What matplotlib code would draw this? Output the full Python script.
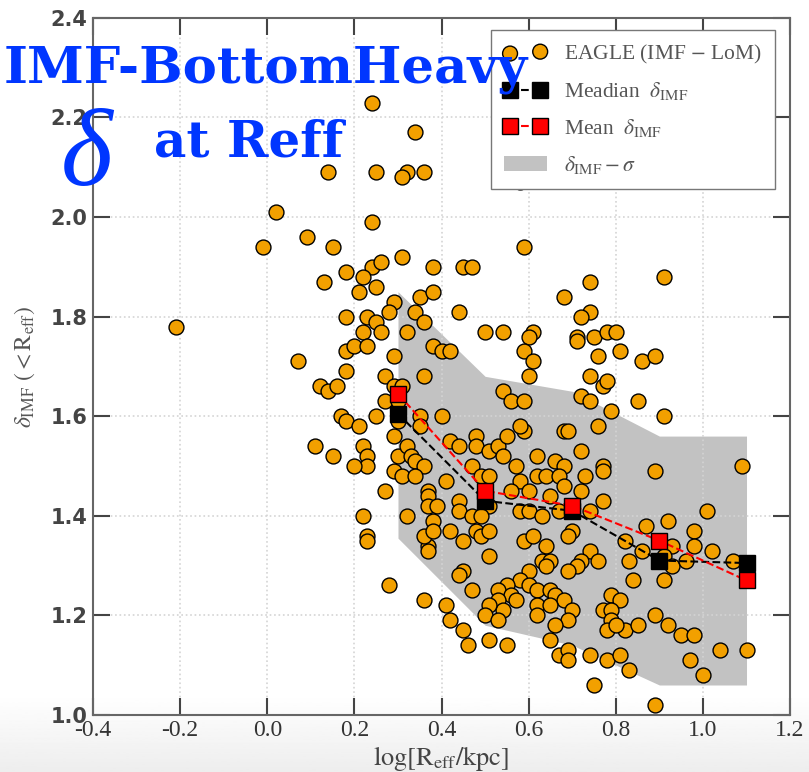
import numpy as np
import matplotlib.pyplot as plt

# EAGLE galaxies (IMF - LoM): log Reff [kpc], delta_IMF(<Reff)
x_eagle = [0.24, 0.34, 0.14, 0.25, 0.32, 0.31, 0.02, 0.24, -0.01, 0.09,
           0.15, 0.31, 0.18, 0.24, 0.26, 0.13, 0.22, 0.25, 0.21, 0.29,
           0.28, 0.18, 0.23, 0.25, -0.21, 0.22, 0.26, 0.32,
           0.36, 0.58, 0.38, 0.45, 0.47, 0.59, 0.91, 0.74, 0.68, 0.74,
           0.72, 0.35, 0.38, 0.44, 0.34, 0.36, 0.50, 0.54, 0.61, 0.60,
           0.71, 0.71, 0.75, 0.78, 0.80,
           0.18, 0.20, 0.23, 0.07, 0.29, 0.18, 0.12, 0.14, 0.16, 0.27,
           0.29, 0.31, 0.27, 0.30, 0.17, 0.18, 0.21, 0.25, 0.30, 0.29,
           0.11, 0.15, 0.22, 0.23, 0.23, 0.20, 0.30, 0.32, 0.29, 0.31,
           0.27, 0.22, 0.23, 0.32,
           0.23, 0.37, 0.37, 0.28, 0.36, 0.41, 0.42,
           0.38, 0.40, 0.42, 0.59, 0.61, 0.76, 0.81, 0.86, 0.89, 0.36,
           0.60, 0.74, 0.77, 0.78, 0.54, 0.56, 0.59, 0.72, 0.74, 0.85,
           0.79, 0.91, 0.35, 0.40, 0.35, 0.59, 0.58, 0.68, 0.69, 0.76,
           0.42, 0.44, 0.48, 0.48, 0.51, 0.53, 0.55, 0.33, 0.34, 0.36,
           0.34, 0.72, 0.47, 0.54, 0.57, 0.62, 0.66, 0.68, 0.77, 0.77,
           0.89, 1.09, 0.62, 0.64, 0.67, 0.68, 0.73, 0.49, 0.51, 0.41,
           0.58, 0.60, 0.72, 0.37, 0.37, 0.37, 0.39, 0.44, 0.56, 0.65,
           0.77, 0.44, 0.51, 0.58, 0.60, 0.63, 0.67, 0.74, 1.01, 0.38,
           0.47, 0.49, 0.87, 0.92, 0.36, 0.38, 0.42, 0.45, 0.48, 0.49,
           0.51, 0.59, 0.61, 0.70, 0.69, 0.82, 0.98, 0.98, 0.93, 0.64,
           0.51, 0.63, 0.65, 0.64, 0.74, 0.76, 0.72, 0.71, 0.69, 0.86,
           0.91, 1.02, 0.93, 0.83, 0.96, 1.07, 0.84, 0.91, 0.45, 0.44,
           0.60, 0.58, 0.60, 0.55, 0.53, 0.56, 0.47, 0.62, 0.65, 0.66,
           0.68, 0.53, 0.54, 0.51, 0.50, 0.53, 0.57, 0.62, 0.65, 0.62,
           0.70, 0.69, 0.45, 0.46, 0.51, 0.55, 0.66, 0.65, 0.79, 0.81,
           0.77, 0.79, 0.79, 0.78, 0.82, 0.80, 0.85, 0.89, 0.92, 0.95,
           0.98, 1.04, 1.10, 0.67, 0.69, 0.69, 0.74, 0.78, 0.81, 0.83,
           0.97, 1.00, 0.75, 0.89]
y_eagle = [2.23, 2.17, 2.09, 2.09, 2.09, 2.08, 2.01, 1.99, 1.94, 1.96,
           1.94, 1.92, 1.89, 1.90, 1.91, 1.87, 1.88, 1.86, 1.85, 1.83,
           1.81, 1.80, 1.80, 1.79, 1.78, 1.77, 1.77, 1.77,
           2.09, 2.07, 1.90, 1.90, 1.90, 1.94, 1.88, 1.87, 1.84, 1.81,
           1.80, 1.84, 1.85, 1.81, 1.81, 1.79, 1.77, 1.77, 1.77, 1.76,
           1.76, 1.75, 1.76, 1.77, 1.77,
           1.73, 1.74, 1.74, 1.71, 1.72, 1.69, 1.66, 1.65, 1.66, 1.68,
           1.66, 1.66, 1.63, 1.63, 1.60, 1.59, 1.58, 1.60, 1.59, 1.56,
           1.54, 1.52, 1.54, 1.52, 1.50, 1.50, 1.52, 1.54, 1.49, 1.48,
           1.45, 1.40, 1.36, 1.40,
           1.35, 1.34, 1.33, 1.26, 1.23, 1.22, 1.19,
           1.74, 1.73, 1.73, 1.73, 1.71, 1.72, 1.73, 1.71, 1.72, 1.68,
           1.68, 1.68, 1.66, 1.67, 1.65, 1.63, 1.63, 1.64, 1.63, 1.63,
           1.61, 1.60, 1.60, 1.60, 1.58, 1.57, 1.58, 1.57, 1.57, 1.58,
           1.55, 1.54, 1.56, 1.54, 1.53, 1.54, 1.56, 1.52, 1.51, 1.50,
           1.48, 1.53, 1.50, 1.52, 1.50, 1.52, 1.51, 1.50, 1.50, 1.49,
           1.49, 1.50, 1.48, 1.48, 1.48, 1.46, 1.48, 1.48, 1.48, 1.47,
           1.47, 1.45, 1.45, 1.45, 1.44, 1.42, 1.42, 1.43, 1.45, 1.44,
           1.43, 1.41, 1.42, 1.41, 1.41, 1.40, 1.41, 1.41, 1.41, 1.39,
           1.40, 1.40, 1.38, 1.39, 1.36, 1.37, 1.37, 1.35, 1.37, 1.36,
           1.37, 1.35, 1.36, 1.37, 1.36, 1.35, 1.37, 1.34, 1.34, 1.34,
           1.32, 1.31, 1.31, 1.30, 1.33, 1.31, 1.31, 1.30, 1.29, 1.33,
           1.32, 1.33, 1.30, 1.31, 1.31, 1.31, 1.27, 1.27, 1.29, 1.28,
           1.29, 1.27, 1.26, 1.26, 1.25, 1.24, 1.25, 1.25, 1.25, 1.24,
           1.23, 1.23, 1.21, 1.22, 1.20, 1.19, 1.23, 1.22, 1.22, 1.20,
           1.21, 1.19, 1.17, 1.14, 1.15, 1.14, 1.18, 1.15, 1.24, 1.23,
           1.21, 1.21, 1.19, 1.17, 1.17, 1.18, 1.18, 1.20, 1.18, 1.16,
           1.16, 1.13, 1.13, 1.12, 1.13, 1.11, 1.12, 1.11, 1.12, 1.09,
           1.11, 1.08, 1.06, 1.02]

# binned statistics
x_bins = [0.3, 0.5, 0.7, 0.9, 1.1]
median_delta = [1.605, 1.43, 1.41, 1.31, 1.305]
mean_delta = [1.645, 1.45, 1.42, 1.35, 1.27]
sigma_upper = [1.85, 1.68, 1.65, 1.56, 1.56]
sigma_lower = [1.355, 1.18, 1.14, 1.06, 1.06]

plt.rcParams['mathtext.fontset'] = 'stix'

fig = plt.figure(figsize=(8.09, 7.72), dpi=100)

# faint grey fade at the bottom of the slide
bg = fig.add_axes([0, 0, 1, 0.1], zorder=-5)
bg.imshow(np.linspace(0.93, 1.0, 50).reshape(-1, 1), cmap='gray',
          vmin=0, vmax=1, aspect='auto', extent=[0, 1, 0, 1], origin='lower')
bg.axis('off')

ax = fig.add_axes([0.115, 0.074, 0.8616, 0.9028])
ax.set_facecolor('none')

ax.fill_between(x_bins, sigma_lower, sigma_upper, color='#c2c2c2', lw=0,
                zorder=1, label=r'$\delta_{\rm IMF} - \sigma$')
ax.scatter(x_eagle, y_eagle, s=115, c='#f2a000', edgecolors='black',
           linewidths=1.0, zorder=3, label=r'EAGLE (IMF $-$ LoM)')
ax.plot(x_bins, median_delta, ls='--', color='black', lw=1.5, marker='s',
        ms=11, mec='black', mfc='black', zorder=4,
        label=r'Meadian  $\delta_{\rm IMF}$')
ax.plot(x_bins, mean_delta, ls='--', color='red', lw=1.5, marker='s',
        ms=11, mec='black', mfc='red', zorder=5,
        label=r'Mean  $\delta_{\rm IMF}$')

ax.set_xlim(-0.4, 1.2)
ax.set_ylim(1.0, 2.4)
ax.set_xticks(np.arange(-0.4, 1.21, 0.2))
ax.set_yticks(np.arange(1.0, 2.41, 0.2))
ax.set_xticklabels(['%.1f' % v for v in np.arange(-0.4, 1.21, 0.2)],
                   family='Liberation Serif', fontsize=17, color='#333333')
ax.set_yticklabels(['%.1f' % v for v in np.arange(1.0, 2.41, 0.2)],
                   fontsize=15, color='#444444', fontweight='bold')
ax.tick_params(direction='in', length=12, width=1.5, color='#444444',
               top=True, right=True, pad=4)
ax.grid(True, ls=':', color='#d4d4d4', lw=1.2)
for sp in ax.spines.values():
    sp.set_color('#666666')
    sp.set_linewidth(1.5)

ax.set_xlabel(r'$\log[{\rm R_{eff}/kpc}]$', fontsize=19, color='#444444',
              labelpad=2)
ax.set_ylabel(r'$\delta_{\rm IMF}\ ( < {\rm R_{eff}})$', fontsize=17,
              color='#555555', labelpad=10)

h, l = ax.get_legend_handles_labels()
order = [1, 2, 3, 0]
leg = ax.legend([h[i] for i in order], [l[i] for i in order],
                loc='upper right', bbox_to_anchor=(0.978, 0.983),
                borderaxespad=0, scatterpoints=2, numpoints=2,
                handlelength=2.0,
                prop={'family': 'Liberation Serif', 'size': 15.5},
                fancybox=False, edgecolor='#777777', framealpha=1,
                borderpad=0.6, labelspacing=0.68)
for t in leg.get_texts():
    t.set_color('#555555')

# slide overlay text
fig.text(0.004, 0.91, 'IMF-BottomHeavy', family='DejaVu Serif',
         fontweight='bold', fontsize=37, color='#0036ff', va='center')
fig.text(0.075, 0.795, 'δ', family='Liberation Serif', style='italic',
         fontsize=80, color='#0036ff', va='center')
fig.text(0.19, 0.815, 'at Reff', family='DejaVu Serif', fontweight='bold',
         fontsize=36, color='#0036ff', va='center')

fig.savefig('out.png', dpi=100)
